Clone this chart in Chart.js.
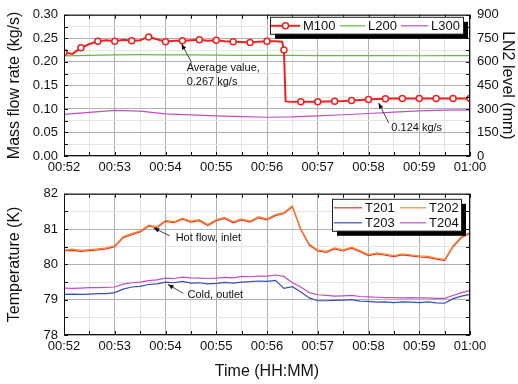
<!DOCTYPE html>
<html lang="en">
<head>
<meta charset="UTF-8">
<title>Mass flow rate and temperature</title>
<script src="https://cdn.jsdelivr.net/npm/chart.js"></script>
<style>
  body { margin: 0; background: #fff; }
  canvas { position: absolute; left: 0; }
  #flowChart { top: 0; }
  #tempChart { top: 180px; }
</style>
</head>
<body>
<canvas id="flowChart" width="518" height="180"></canvas>
<canvas id="tempChart" width="518" height="204"></canvas>
<script>
// time is in seconds after 00:52
const timeLabels = ['00:52', '00:53', '00:54', '00:55', '00:56', '00:57', '00:58', '00:59', '01:00'];

// mass flow rate M100 (kg/s)
const flowTime = [0, 10, 20, 30, 40, 50, 60, 70, 80, 90, 100, 110, 120, 130, 140, 150, 160, 170, 180, 190,
  200, 210, 220, 230, 240, 250, 258, 260, 262, 270, 280, 290, 300, 310, 320, 330, 340, 350, 360, 370,
  380, 390, 400, 410, 420, 430, 440, 450, 460, 470, 480];
const m100 = [0.220, 0.217, 0.230, 0.238, 0.244, 0.246, 0.244, 0.247, 0.245, 0.246, 0.253, 0.248, 0.243, 0.245,
  0.245, 0.246, 0.247, 0.245, 0.246, 0.244, 0.243, 0.242, 0.241, 0.243, 0.244, 0.244, 0.243, 0.225, 0.116,
  0.115, 0.115, 0.115, 0.115, 0.116, 0.1165, 0.117, 0.118, 0.119, 0.120, 0.121, 0.1215, 0.122, 0.122,
  0.122, 0.122, 0.122, 0.122, 0.122, 0.122, 0.122, 0.122];

// LN2 level (mm)
const levelTime = [0, 30, 60, 90, 120, 150, 180, 210, 240, 270, 300, 330, 360, 390, 420, 450, 480];
const l200 = [638, 642, 645, 646, 645, 644, 643, 642, 641, 641, 640, 640, 640, 640, 639, 640, 640];
const l300 = [265, 278, 291, 286, 268, 262, 256, 251, 247, 249, 256, 263, 271, 280, 288, 292, 294];

// temperatures (K)
const tempTime = [0, 10, 20, 30, 40, 50, 60, 70, 80, 90, 100, 110, 120, 130, 140, 150, 160, 170, 180, 190,
  200, 210, 220, 230, 240, 250, 260, 270, 280, 290, 300, 310, 320, 330, 340, 350, 360, 370, 380, 390,
  400, 410, 420, 430, 440, 450, 460, 470, 480];
const t201 = [80.38, 80.40, 80.37, 80.39, 80.41, 80.44, 80.50, 80.76, 80.84, 80.92, 81.08, 81.04, 81.22, 81.18,
  81.28, 81.20, 81.24, 81.10, 81.24, 81.30, 81.18, 81.26, 81.20, 81.32, 81.26, 81.38, 81.44, 81.63, 80.98,
  80.55, 80.38, 80.34, 80.44, 80.38, 80.46, 80.36, 80.25, 80.30, 80.26, 80.22, 80.27, 80.24, 80.21, 80.20,
  80.15, 80.11, 80.50, 80.76, 80.88];
const t202 = [80.41, 80.43, 80.40, 80.42, 80.44, 80.47, 80.53, 80.79, 80.87, 80.95, 81.11, 81.07, 81.25, 81.21,
  81.31, 81.23, 81.27, 81.13, 81.27, 81.33, 81.21, 81.29, 81.23, 81.35, 81.29, 81.41, 81.47, 81.66, 81.01,
  80.58, 80.41, 80.37, 80.47, 80.41, 80.49, 80.39, 80.28, 80.33, 80.29, 80.25, 80.30, 80.27, 80.24, 80.23,
  80.18, 80.14, 80.53, 80.79, 80.91];
const t203 = [79.15, 79.16, 79.15, 79.16, 79.17, 79.17, 79.20, 79.30, 79.36, 79.38, 79.43, 79.45, 79.50, 79.48,
  79.52, 79.47, 79.48, 79.45, 79.46, 79.49, 79.47, 79.50, 79.51, 79.53, 79.52, 79.55, 79.32, 79.37, 79.22,
  79.05, 78.97, 78.97, 78.98, 78.99, 79.00, 78.96, 78.95, 78.93, 78.94, 78.92, 78.94, 78.93, 78.92, 78.94,
  78.91, 78.90, 79.03, 79.10, 79.15];
const t204 = [79.33, 79.32, 79.33, 79.34, 79.34, 79.35, 79.36, 79.44, 79.48, 79.50, 79.54, 79.56, 79.61, 79.60,
  79.64, 79.62, 79.61, 79.60, 79.61, 79.63, 79.62, 79.66, 79.65, 79.67, 79.67, 79.70, 79.66, 79.48, 79.36,
  79.20, 79.14, 79.12, 79.10, 79.11, 79.12, 79.09, 79.08, 79.07, 79.06, 79.06, 79.05, 79.06, 79.05, 79.05,
  79.04, 79.04, 79.12, 79.20, 79.26];

const FONT = "'Liberation Sans', Arial, sans-serif";
const pairs = (xs, ys) => xs.map((x, i) => ({x: x, y: ys[i]}));

// black box round the plot with small inward ticks
const framePlugin = {
  id: 'frame',
  afterDraw(chart) {
    const {ctx, chartArea: a} = chart;
    const xs = chart.scales.x, ys = chart.scales.y;
    ctx.save();
    ctx.strokeStyle = '#111';
    ctx.lineWidth = 1;
    ctx.strokeRect(a.left + 0.5, a.top + 0.5, a.right - a.left - 1, a.bottom - a.top - 1);
    ctx.beginPath();
    xs.ticks.forEach(t => {
      const p = Math.round(xs.getPixelForValue(t.value)) + 0.5;
      ctx.moveTo(p, a.bottom); ctx.lineTo(p, a.bottom - 4);
      ctx.moveTo(p, a.top); ctx.lineTo(p, a.top + 4);
    });
    ys.ticks.forEach(t => {
      const p = Math.round(ys.getPixelForValue(t.value)) + 0.5;
      ctx.moveTo(a.left, p); ctx.lineTo(a.left + 4, p);
      ctx.moveTo(a.right, p); ctx.lineTo(a.right - 4, p);
    });
    ctx.stroke();
    ctx.restore();
  }
};

// boxed legend with a drop shadow, drawn inside the plot
const boxLegendPlugin = {
  id: 'boxLegend',
  afterDraw(chart, args, opts) {
    const {ctx, chartArea: a} = chart;
    const left = a.right - opts.right - opts.width, top = a.top + opts.top;
    ctx.save();
    ctx.fillStyle = '#000';
    ctx.fillRect(left + 5, top + 5, opts.width, opts.height);
    ctx.fillStyle = '#fff';
    ctx.fillRect(left, top, opts.width, opts.height);
    ctx.strokeStyle = '#222';
    ctx.lineWidth = 1;
    ctx.strokeRect(left + 0.5, top + 0.5, opts.width, opts.height);
    ctx.font = '13px ' + FONT;
    ctx.textBaseline = 'middle';
    opts.items.forEach(it => {
      const ds = chart.data.datasets[it.ds];
      const y = top + it.dy;
      ctx.strokeStyle = ds.borderColor;
      ctx.lineWidth = ds.borderWidth;
      ctx.beginPath();
      ctx.moveTo(left + it.dx, y);
      ctx.lineTo(left + it.dx + it.len, y);
      ctx.stroke();
      if (it.marker) {
        ctx.beginPath();
        ctx.arc(left + it.dx + it.len / 2, y, 3, 0, Math.PI * 2);
        ctx.fillStyle = '#fff';
        ctx.fill();
        ctx.lineWidth = 1.5;
        ctx.stroke();
      }
      ctx.fillStyle = '#111';
      ctx.fillText(ds.label, left + it.dx + it.len + 3, y + 1);
    });
    ctx.restore();
  }
};

// text notes with arrows, placed in data units
const notePlugin = {
  id: 'notes',
  afterDatasetsDraw(chart, args, opts) {
    const {ctx} = chart;
    const xs = chart.scales.x;
    ctx.save();
    opts.items.forEach(n => {
      const ys = chart.scales[n.axis];
      const px = v => xs.getPixelForValue(v), py = v => ys.getPixelForValue(v);
      ctx.font = '11px ' + FONT;
      ctx.fillStyle = '#111';
      ctx.textBaseline = 'middle';
      n.text.forEach((line, i) => ctx.fillText(line, px(n.x), py(n.y) + i * 14));
      const x0 = px(n.tail[0]), y0 = py(n.tail[1]), x1 = px(n.tip[0]), y1 = py(n.tip[1]);
      const ang = Math.atan2(y1 - y0, x1 - x0);
      ctx.strokeStyle = '#444';
      ctx.lineWidth = 1;
      ctx.beginPath();
      ctx.moveTo(x0, y0);
      ctx.lineTo(x1, y1);
      ctx.stroke();
      ctx.fillStyle = '#111';
      ctx.beginPath();
      ctx.moveTo(x1, y1);
      ctx.lineTo(x1 - 6 * Math.cos(ang - 0.4), y1 - 6 * Math.sin(ang - 0.4));
      ctx.lineTo(x1 - 6 * Math.cos(ang + 0.4), y1 - 6 * Math.sin(ang + 0.4));
      ctx.closePath();
      ctx.fill();
    });
    ctx.restore();
  }
};

const gridColor = major => (c => (c.tick && major(c.tick.value)) ? '#b0b0b0' : '#e4e4e4');
const tickFont = {family: FONT, size: 13};
const titleFont = {family: FONT, size: 16};

function timeAxis(withTitle) {
  return {
    type: 'linear', min: 0, max: 480,
    afterFit: s => { s.height = withTitle ? 49 : 24; },
    ticks: {
      stepSize: 30, autoSkip: false, maxRotation: 0, padding: 4, color: '#111', font: tickFont,
      callback: v => v % 60 === 0 ? timeLabels[v / 60] : ''
    },
    grid: {drawTicks: false, color: gridColor(v => v % 60 === 0)},
    border: {display: false},
    title: {display: withTitle, text: 'Time (HH:MM)', color: '#111', font: titleFont, padding: {top: 0, bottom: 3}}
  };
}

new Chart(document.getElementById('flowChart'), {
  type: 'line',
  data: {
    datasets: [
      {
        label: 'M100', data: pairs(flowTime, m100), yAxisID: 'y',
        borderColor: '#f02020', borderWidth: 2, backgroundColor: '#fff',
        pointRadius: c => (c.raw && c.raw.x % 20 === 0) ? 3 : 0,
        pointBorderWidth: 1.5, pointBackgroundColor: '#fff', pointBorderColor: '#f02020'
      },
      {
        label: 'L200', data: pairs(levelTime, l200), yAxisID: 'y1',
        borderColor: '#62bd3c', borderWidth: 1.2, pointRadius: 0
      },
      {
        label: 'L300', data: pairs(levelTime, l300), yAxisID: 'y1',
        borderColor: '#c24ec2', borderWidth: 1.2, pointRadius: 0
      }
    ]
  },
  options: {
    responsive: false,
    animation: false,
    layout: {padding: {top: 13, left: 0, right: 0, bottom: 0}},
    plugins: {
      legend: {display: false},
      tooltip: {enabled: false},
      boxLegend: {
        right: 7, top: 2, width: 193, height: 17,
        items: [
          {ds: 0, dx: 1, dy: 9, len: 29, marker: true},
          {ds: 1, dx: 70, dy: 9, len: 25},
          {ds: 2, dx: 131, dy: 9, len: 27}
        ]
      },
      notes: {
        items: [
          {axis: 'y', text: ['Average value,', '0.267 kg/s'], x: 145, y: 0.188, tail: [151, 0.198], tip: [139, 0.238]},
          {axis: 'y', text: ['0.124 kg/s'], x: 387, y: 0.060, tail: [384, 0.070], tip: [372, 0.1125]}
        ]
      }
    },
    scales: {
      x: timeAxis(false),
      y: {
        position: 'left', min: 0, max: 0.3,
        afterFit: s => { s.width = 64; },
        ticks: {
          stepSize: 0.025, autoSkip: false, padding: 6, color: '#111', font: tickFont,
          callback: v => Math.round(v * 1000) % 50 === 0 ? v.toFixed(2) : ''
        },
        grid: {drawTicks: false, color: gridColor(v => Math.round(v * 1000) % 50 === 0)},
        border: {display: false},
        title: {display: true, text: 'Mass flow rate (kg/s)', color: '#111', font: titleFont, padding: {top: 5, bottom: 0}}
      },
      y1: {
        position: 'right', min: 0, max: 900,
        afterFit: s => { s.width = 48; },
        ticks: {
          stepSize: 75, autoSkip: false, padding: 7, color: '#111', font: tickFont,
          callback: v => v % 150 === 0 ? v : ''
        },
        grid: {drawTicks: false, drawOnChartArea: false},
        border: {display: false},
        title: {display: true, text: 'LN2 level (mm)', color: '#111', font: titleFont, padding: {top: 1, bottom: 0}}
      }
    }
  },
  plugins: [framePlugin, boxLegendPlugin, notePlugin]
});

new Chart(document.getElementById('tempChart'), {
  type: 'line',
  data: {
    datasets: [
      {label: 'T201', data: pairs(tempTime, t201), borderColor: '#e8302a', borderWidth: 1.2, pointRadius: 0, order: 2},
      {label: 'T202', data: pairs(tempTime, t202), borderColor: '#f78a2c', borderWidth: 1.2, pointRadius: 0, order: 1},
      {label: 'T203', data: pairs(tempTime, t203), borderColor: '#3a4cb2', borderWidth: 1.2, pointRadius: 0, order: 4},
      {label: 'T204', data: pairs(tempTime, t204), borderColor: '#c24ec2', borderWidth: 1.2, pointRadius: 0, order: 3}
    ]
  },
  options: {
    responsive: false,
    animation: false,
    layout: {padding: {top: 10, left: 0, right: 48, bottom: 0}},
    plugins: {
      legend: {display: false},
      tooltip: {enabled: false},
      boxLegend: {
        right: 9, top: 5, width: 129, height: 32,
        items: [
          {ds: 0, dx: 2, dy: 9, len: 28},
          {ds: 1, dx: 68, dy: 9, len: 26},
          {ds: 2, dx: 2, dy: 24, len: 28},
          {ds: 3, dx: 68, dy: 24, len: 26}
        ]
      },
      notes: {
        items: [
          {axis: 'y', text: ['Hot flow, inlet'], x: 132, y: 80.74, tail: [125, 80.81], tip: [106, 81.03]},
          {axis: 'y', text: ['Cold, outlet'], x: 146, y: 79.12, tail: [141, 79.18], tip: [123, 79.43]}
        ]
      }
    },
    scales: {
      x: timeAxis(true),
      y: {
        position: 'left', min: 78, max: 82,
        afterFit: s => { s.width = 64; },
        ticks: {
          stepSize: 0.5, autoSkip: false, padding: 6, color: '#111', font: tickFont,
          callback: v => Number.isInteger(v) ? v : ''
        },
        grid: {drawTicks: false, color: gridColor(v => Number.isInteger(v))},
        border: {display: false},
        title: {display: true, text: 'Temperature (K)', color: '#111', font: titleFont, padding: {top: 5, bottom: 0}}
      }
    }
  },
  plugins: [framePlugin, boxLegendPlugin, notePlugin]
});
</script>
</body>
</html>
